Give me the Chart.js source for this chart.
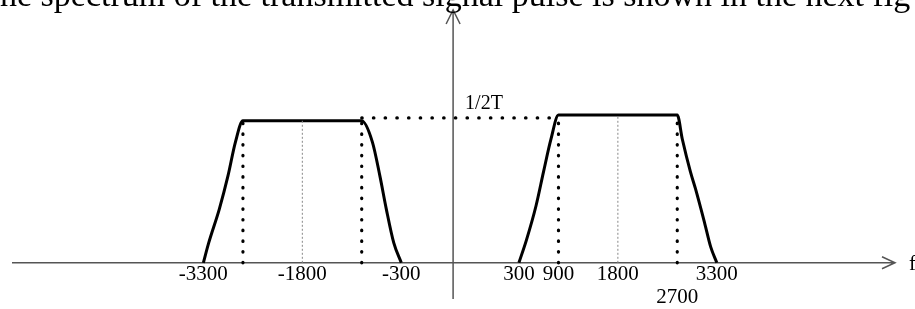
<!DOCTYPE html>
<html lang="en">
<head>
  <meta charset="UTF-8">
  <title>Spectrum of the transmitted pulse</title>
  <script src="https://cdn.jsdelivr.net/npm/chart.js@4"></script>
  <style>
    html, body { margin: 0; padding: 0; background: #fff; }
    canvas { display: block; }
  </style>
</head>
<body>
  <canvas id="spectrum" width="915" height="309"></canvas>

  <script>
    // values (f in Hz, height relative to 1/2T)
    const tickValues = [-3300, -1800, -300, 300, 900, 1800, 2700, 3300];
    const levelLabel = '1/2T';

    const leftF = [-3300, -3219, -3057, -2928, -2814, -2700, -900, -738, -624, -528, -414, -300];
    const leftH = [0, 0.14, 0.38, 0.61, 0.85, 1, 1, 0.85, 0.61, 0.38, 0.14, 0];

    const rightF = [300, 414, 559, 673, 786, 900, 2700, 2777, 2900, 2977, 3115, 3208, 3300];
    const rightH = [0, 0.16, 0.40, 0.64, 0.87, 1.04, 1.04, 0.87, 0.64, 0.52, 0.28, 0.11, 0];

    const edgeF = [-2700, -900, 900, 2700];
    const edgeTop = [1, 1, 1.04, 1.04];
    const centreF = [-1800, 1800];
    const centreTop = [1, 1.04];
    const levelF = [-900, 900];
    const levelH = [1.02, 1.02];

    // the sketch is not to scale: the two bands are pulled apart around f = 0
    class GapScale extends Chart.LinearScale {
      getPixelForValue(value) {
        if (value === null || isNaN(value)) return NaN;
        const before = this.options.gapBefore || 0;
        const after = this.options.gapAfter || 0;
        const span = this.width - before - after;
        let px = this.left + (value - this.min) / (this.max - this.min) * span;
        if (value > 0) px += before + after;
        else if (value === 0) px += before;
        return px;
      }
      getValueForPixel(pixel) {
        const before = this.options.gapBefore || 0;
        const after = this.options.gapAfter || 0;
        const span = this.width - before - after;
        const zero = this.left + (0 - this.min) / (this.max - this.min) * span;
        let p = pixel;
        if (p > zero + before + after) p -= before + after;
        else if (p > zero) p = zero;
        return this.min + (p - this.left) / span * (this.max - this.min);
      }
    }
    GapScale.id = 'gap';
    GapScale.defaults = Chart.LinearScale.defaults;
    Chart.register(GapScale);

    const pts = (xs, ys) => xs.map((x, i) => ({ x: x, y: ys[i] }));

    const datasets = [];
    edgeF.forEach((f, i) => {
      datasets.push({
        data: [{ x: f, y: 0 }, { x: f, y: edgeTop[i] }],
        borderColor: '#000', borderWidth: 3.2, borderDash: [0.5, 10.2], borderCapStyle: 'round'
      });
    });
    centreF.forEach((f, i) => {
      datasets.push({
        data: [{ x: f, y: 0 }, { x: f, y: centreTop[i] }],
        borderColor: '#888', borderWidth: 1, borderDash: [2, 2]
      });
    });
    datasets.push({
      data: pts(levelF, levelH),
      borderColor: '#000', borderWidth: 3.2, borderDash: [0.5, 11.2], borderCapStyle: 'round'
    });
    datasets.push({ data: pts(leftF, leftH), borderColor: '#000', borderWidth: 3, cubicInterpolationMode: 'monotone' });
    datasets.push({ data: pts(rightF, rightH), borderColor: '#000', borderWidth: 3, cubicInterpolationMode: 'monotone' });
    datasets.forEach(d => { d.pointRadius = 0; d.fill = false; d.clip = false; });

    const sketchAxes = {
      id: 'sketchAxes',
      beforeDatasetsDraw(chart) {
        const { ctx, chartArea, scales: { x, y } } = chart;
        const x0 = x.getPixelForValue(0);
        const y0 = y.getPixelForValue(0);
        ctx.save();
        ctx.strokeStyle = '#555';
        ctx.lineWidth = 1.5;
        ctx.beginPath();
        // f axis with open arrow head
        ctx.moveTo(chartArea.left, y0);
        ctx.lineTo(chartArea.right, y0);
        ctx.moveTo(chartArea.right - 13, y0 - 6);
        ctx.lineTo(chartArea.right, y0);
        ctx.lineTo(chartArea.right - 13, y0 + 6);
        // vertical axis, runs a bit below the f axis
        ctx.moveTo(x0, 299);
        ctx.lineTo(x0, chartArea.top);
        ctx.moveTo(x0 - 7, chartArea.top + 14);
        ctx.lineTo(x0, chartArea.top);
        ctx.lineTo(x0 + 7, chartArea.top + 14);
        ctx.stroke();
        ctx.restore();
      },
      afterDraw(chart) {
        const { ctx, scales: { x, y } } = chart;
        ctx.save();
        ctx.fillStyle = '#000';
        ctx.textBaseline = 'alphabetic';
        ctx.font = '20px "Liberation Serif"';
        ctx.fillText(levelLabel, x.getPixelForValue(0) + 12, y.getPixelForValue(levelH[0]) - 9);
        ctx.font = '21px "Liberation Serif"';
        ctx.fillText('f', 909, y.getPixelForValue(0) + 7);
        // line of running text above the figure, cut by the crop
        ctx.font = '34px "Liberation Serif"';
        ctx.fillText('he spectrum of the transmitted signal pulse is shown in the next fig', 0, 6);
        ctx.restore();
      }
    };

    new Chart(document.getElementById('spectrum'), {
      type: 'line',
      data: { datasets: datasets },
      options: {
        responsive: false,
        animation: false,
        devicePixelRatio: 1,
        layout: { padding: { left: 12, right: 20, top: 10, bottom: 0 } },
        plugins: { legend: { display: false }, tooltip: { enabled: false } },
        scales: {
          x: {
            type: 'gap',
            min: -6200,
            max: 6000,
            gapBefore: 32,
            gapAfter: 46,
            grid: { display: false, drawTicks: false },
            border: { display: false },
            afterBuildTicks: axis => { axis.ticks = tickValues.map(v => ({ value: v })); },
            ticks: {
              autoSkip: false,
              maxRotation: 0,
              padding: 0,
              color: '#000',
              font: { family: 'Liberation Serif', size: 21, lineHeight: 1.1 },
              callback: v => v === 2700 ? ['', String(v)] : String(v)
            }
          },
          y: {
            type: 'linear',
            display: false,
            min: 0,
            max: 1.78
          }
        }
      },
      plugins: [sketchAxes]
    });
  </script>
</body>
</html>
